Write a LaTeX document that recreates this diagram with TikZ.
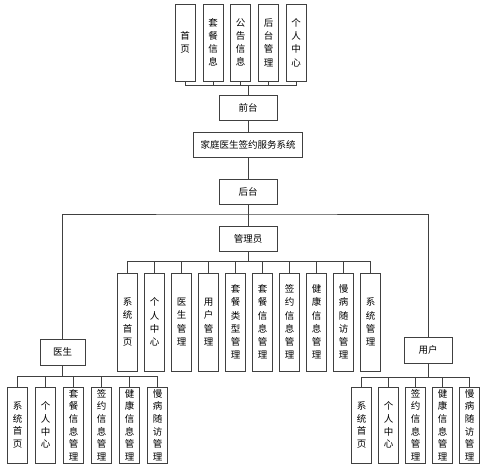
\documentclass[tikz,border=0pt]{standalone}
\usepackage{fontspec}
\setmainfont{Noto Sans CJK SC}
\begin{document}
\begin{tikzpicture}[x=1pt,y=-1pt,
	box/.style={draw=black!75,line width=0.9pt,minimum width=58pt,minimum height=25pt,inner sep=1pt,font=\fontsize{9.5}{11}\selectfont},
	vbox/.style={draw=black!75,line width=0.9pt,minimum width=20pt,inner sep=0pt,align=center,font=\fontsize{9.5}{13.2}\selectfont},
	link/.style={draw=black!75,line width=0.9pt}]
\useasboundingbox (0,0) rectangle (500,469);
% front end
\foreach \x/\txt [count=\i] in {185/首\\页,213/套\\餐\\信\\息,240.5/公\\告\\信\\息,268.5/后\\台\\管\\理,296/个\\人\\中\\心}
	\node [vbox,minimum height=77pt] (top\i) at (\x,42.5) {\txt};
\node [box] (qiantai) at (248,107.5) {前台};
\node [box,minimum width=109pt] (xitong) at (248,144.5) {家庭医生签约服务系统};
\node [box] (houtai) at (248,191.5) {后台};
\node [box] (guanli) at (248,239) {管理员};
\node [box,minimum width=45pt,minimum height=26pt] (yisheng) at (62.5,352) {医生};
\node [box,minimum width=48pt,minimum height=26pt] (yonghu) at (428,350) {用户};
% admin
\foreach \txt [count=\i] in {系\\统\\首\\页,个\\人\\中\\心,医\\生\\管\\理,用\\户\\管\\理,套\\餐\\类\\型\\管\\理,套\\餐\\信\\息\\管\\理,签\\约\\信\\息\\管\\理,健\\康\\信\\息\\管\\理,慢\\病\\随\\访\\管\\理,系\\统\\管\\理}
	\node [vbox,minimum height=98pt] (gl\i) at ({127.5+27*(\i-1)},322) {\txt};
% doctor
\foreach \txt [count=\i] in {系\\统\\首\\页,个\\人\\中\\心,套\\餐\\信\\息\\管\\理,签\\约\\信\\息\\管\\理,健\\康\\信\\息\\管\\理,慢\\病\\随\\访\\管\\理}
	\node [vbox,minimum height=76pt,font=\fontsize{9.5}{12.6}\selectfont] (ys\i) at ({17.5+28*(\i-1)},425) {\txt};
% user
\foreach \txt [count=\i] in {系\\统\\首\\页,个\\人\\中\\心,签\\约\\信\\息\\管\\理,健\\康\\信\\息\\管\\理,慢\\病\\随\\访\\管\\理}
	\node [vbox,minimum height=76pt,font=\fontsize{9.5}{12.6}\selectfont] (yh\i) at ({361.5+27*(\i-1)},425) {\txt};
% links
\foreach \i in {1,...,5}
	\draw [link] (qiantai.north) -- ++(0,-9) -| (top\i.south);
\draw [link] (qiantai.south) -- (xitong.north);
\draw [link] (xitong.south) -- (houtai.north);
\draw [link] (houtai.south) -- (guanli.north);
\coordinate (bigbus) at (248,214);
\draw [link] (yisheng.north) |- (bigbus) -| (yonghu.north);
\foreach \i in {1,...,10}
	\draw [link] (guanli.south) -- ++(0,9) -| (gl\i.north);
\foreach \i in {1,...,6}
	\draw [link] (yisheng.south) -- ++(0,11) -| (ys\i.north);
\foreach \i in {1,...,5}
	\draw [link] (yonghu.south) -- ++(0,14) -| (yh\i.north);
\end{tikzpicture}
\end{document}
